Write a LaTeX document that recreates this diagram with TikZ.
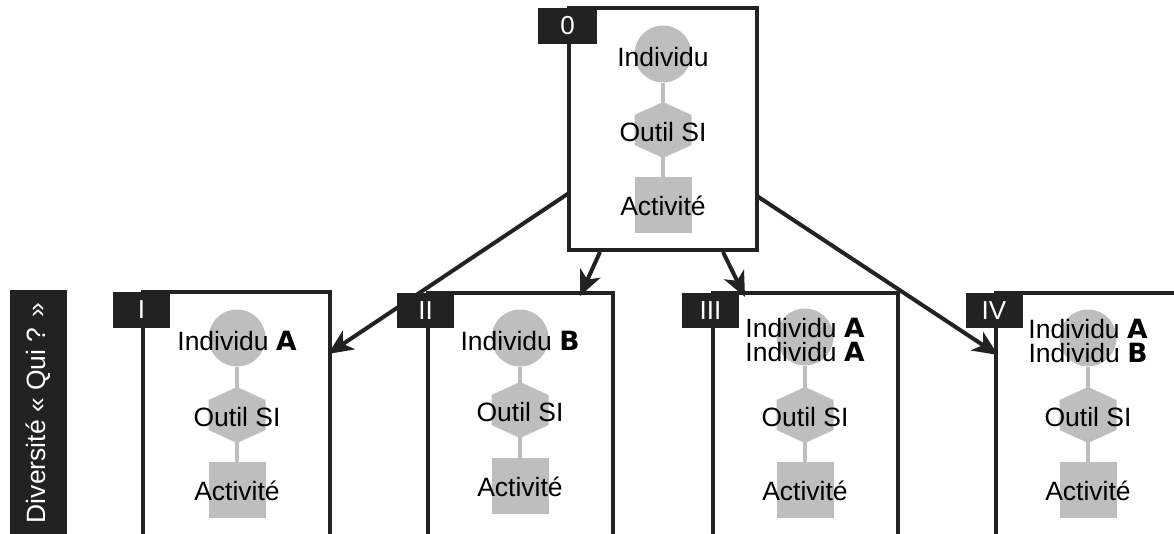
\documentclass[tikz,border=0pt]{standalone}
\usepackage{fontspec}
\setmainfont{Liberation Sans}
\newfontfamily\heavyf{DejaVu Sans}
\usetikzlibrary{arrows.meta,backgrounds}
\definecolor{tagc}{HTML}{222222}
\definecolor{shapeg}{HTML}{BEBEBE}
\newcommand\bigf{\fontsize{26.5}{24}\selectfont}
\newcommand\tagf{\fontsize{26}{26}\selectfont}
\newcommand\hv[1]{{\heavyf\bfseries #1}}
\newcommand\mycol[6]{%
  \node[circ] (#1c) at (#2,#3) {};
  \node[sq] (#1s) at (#2,#5) {};
  \coordinate (#1h) at (#2,#4);
  \fill[shapeg] (#1h) ++(0,-28) -- ++(28.5,13) -- ++(0,30) -- ++(-28.5,13) -- ++(-28.5,-13) -- ++(0,-30) -- cycle;
  \begin{scope}[on background layer]\draw[lnk] (#1c) -- (#1s);\end{scope}
  \node[txt] (#1t1) at (#2,#3+3) {#6};
  \node[txt] (#1t2) at (#2,#4+2) {Outil SI};
  \node[txt] (#1t3) at (#2,#5+1) {Activité};
}
\begin{document}
\begin{tikzpicture}[x=1pt,y=-1pt,
  frame/.style={draw=tagc, line width=3.6pt},
  tagbox/.style={fill=tagc, text=white, minimum width=57pt, minimum height=35pt, inner sep=0pt, font=\tagf},
  circ/.style={circle, fill=shapeg, minimum size=57pt, inner sep=0pt},
  sq/.style={rectangle, fill=shapeg, minimum width=57pt, minimum height=56pt, inner sep=0pt},
  lnk/.style={draw=shapeg, line width=4.5pt},
  txt/.style={font=\bigf, inner sep=0pt, align=center},
  arr/.style={draw=tagc, line width=4pt, -{Stealth[length=25pt,width=22pt,inset=7pt]}},
]
\useasboundingbox (0,0) rectangle (1174,534);
\clip (0,0) rectangle (1174,534);

% frames
\draw[frame] (569,8) rectangle (757,250);
\draw[frame] (143,292) rectangle (330,560);
\draw[frame] (428,293) rectangle (613,560);
\draw[frame] (713,293) rectangle (898,560);
\draw[frame] (996,293) rectangle (1181,560);

% contents
\mycol{z}{663}{54}{130}{205}{Individu}
\mycol{a}{237}{338}{415}{490}{Individu \hv{A}}
\mycol{b}{520}{338}{410}{486}{Individu \hv{B}}
\mycol{c}{805}{337}{415}{490}{Individu \hv{A}\\Individu \hv{A}}
\mycol{d}{1088}{338}{415}{490}{Individu \hv{A}\\Individu \hv{B}}

% tags
\node[tagbox, minimum width=59pt, minimum height=36pt] (tag0) at (567.5,26) {0};
\node[tagbox] (tag1) at (141.5,310) {I};
\node[tagbox] (tag2) at (425.5,310.5) {II};
\node[tagbox] (tag3) at (710.5,310.5) {III};
\node[tagbox] (tag4) at (994,310.5) {IV};

% side label
\node[fill=tagc, minimum width=57pt, minimum height=260pt, inner sep=0pt, anchor=north west] (sidebox) at (10,290) {};
\node[rotate=90, text=white, font=\bigf, inner sep=0pt] (side) at (38.5,413) {Diversité « Qui ? »};

% arrows
\coordinate (s1) at (569,193); \coordinate (e1) at (328,354);
\coordinate (s2) at (600,252); \coordinate (e2) at (580,296);
\coordinate (s3) at (723,252); \coordinate (e3) at (745,297);
\coordinate (s4) at (757,196); \coordinate (e4) at (998,355);
\draw[arr] (s1) -- (e1);
\draw[arr] (s2) -- (e2);
\draw[arr] (s3) -- (e3);
\draw[arr] (s4) -- (e4);
\end{tikzpicture}
\end{document}
